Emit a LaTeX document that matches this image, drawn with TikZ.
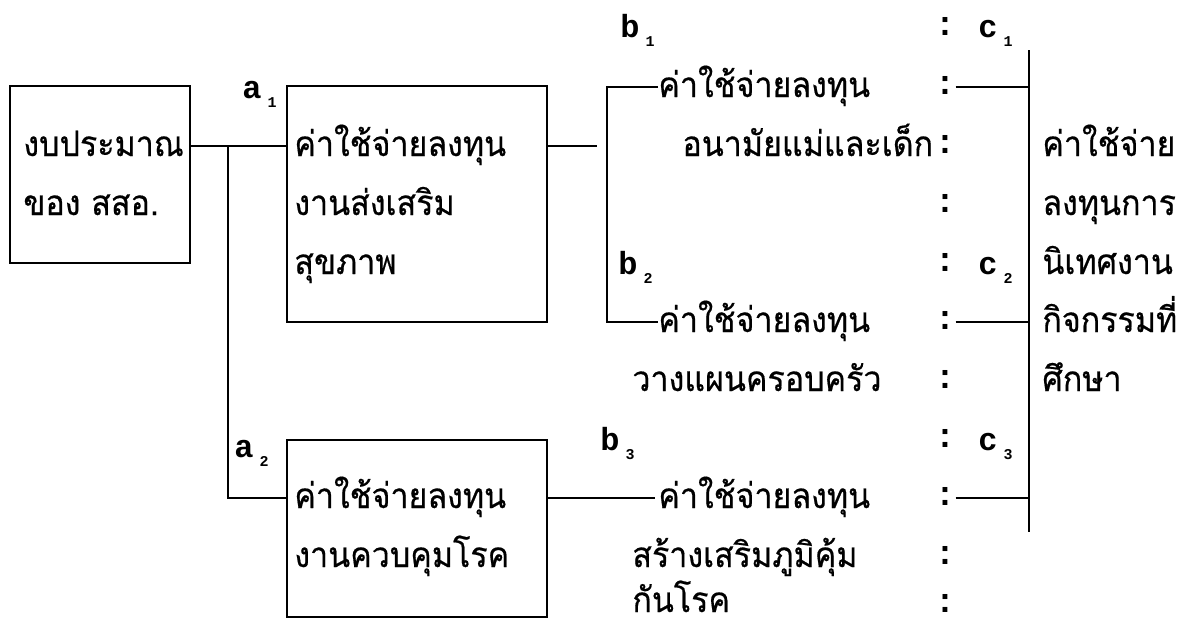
\documentclass[tikz,border=0pt]{standalone}
\usepackage{fontspec}
\newfontfamily\thaifont[Script=Thai,FakeStretch=0.92,FakeBold=0.5]{Loma}
\newfontfamily\labfont{Liberation Mono}
\newcommand{\lbl}[2]{{\labfont\bfseries\fontsize{16}{16}\selectfont #1}\hspace{3pt}\raisebox{-4.5pt}{\labfont\fontsize{7.5}{7.5}\selectfont\bfseries #2}}
\begin{document}
\begin{tikzpicture}[x=0.5pt,y=-0.5pt,
  box/.style={draw,line width=1.3pt,inner sep=0pt,outer sep=0pt,anchor=north west},
  ln/.style={line width=1.2pt},
  tx/.style={anchor=base west,inner sep=0pt,font=\thaifont\fontsize{17.5}{17.5}\selectfont},
  lab/.style={anchor=base west,inner sep=0pt},
  col/.style={anchor=base,inner sep=0pt,font=\labfont\bfseries\fontsize{17}{17}\selectfont}]
\useasboundingbox (0,0) rectangle (1181,627);
% boxes
\node[box,minimum width=90pt,minimum height=88.5pt] (box1) at (10,86) {};
\node[box,minimum width=130pt,minimum height=118pt] (box2) at (287,86) {};
\node[box,minimum width=130pt,minimum height=88.5pt] (box3) at (287,440) {};
% box texts
\node[tx] (t11) at (23,156) {งบประมาณ};
\node[tx] (t12) at (23,215) {ของ สสอ.};
\node[tx] (t21) at (294,156) {ค่าใช้จ่ายลงทุน};
\node[tx] (t22) at (294,215) {งานส่งเสริม};
\node[tx] (t23) at (294,274) {สุขภาพ};
\node[tx] (t31) at (294,508) {ค่าใช้จ่ายลงทุน};
\node[tx] (t32) at (294,567) {งานควบคุมโรค};
% labels a
\node[lab] (la1) at (242,98) {\lbl{a}{1}};
\node[lab] (la2) at (234,457) {\lbl{a}{2}};
% connectors left
\coordinate (j1) at (228,146);
\coordinate (j2) at (228,498);
\draw[ln] (box1.east |- j1) -- (box2.west |- j1);
\draw[ln] (j1) -- (j2) -- (box3.west |- j2);
\coordinate (s2) at (597,146);
\draw[ln] (box2.east |- s2) -- (s2);
% b column
\node[lab] (lb1) at (620,37) {\lbl{b}{1}};
\node[lab] (lb2) at (618,274) {\lbl{b}{2}};
\node[lab] (lb3) at (600,450) {\lbl{b}{3}};
\node[tx] (tb1) at (658,97) {ค่าใช้จ่ายลงทุน};
\node[tx] (tb12) at (682,156) {อนามัยแม่และเด็ก};
\node[tx] (tb2) at (658,332) {ค่าใช้จ่ายลงทุน};
\node[tx] (tb22) at (632,391) {วางแผนครอบครัว};
\node[tx] (tb3) at (658,508) {ค่าใช้จ่ายลงทุน};
\node[tx] (tb32) at (632,567) {สร้างเสริมภูมิคุ้ม};
\node[tx] (tb33) at (632,612) {กันโรค};
\coordinate (bt) at (607,87);
\coordinate (bb) at (607,322);
\draw[ln] (tb1.west |- bt) -- (bt) -- (bb) -- (tb2.west |- bb);
\coordinate (b3s) at (655,498);
\draw[ln] (box3.east |- b3s) -- (b3s);
% colons
\foreach \r/\n in {28/0,87/1,146/2,205/3,264/4,322/5,381/6,440/7,498/8,557/9,605/10}
  \node[col] (cl\n) at (945,\r+7) {:};
% c labels
\node[lab] (lc1) at (978,37) {\lbl{c}{1}};
\node[lab] (lc2) at (978,274) {\lbl{c}{2}};
\node[lab] (lc3) at (978,450) {\lbl{c}{3}};
% c bracket
\coordinate (ct) at (1029,50);
\coordinate (cb) at (1029,532);
\draw[ln] (ct) -- (cb);
\draw[ln] (cl1.east |- 0,87) -- (ct |- 0,87);
\draw[ln] (cl5.east |- 0,322) -- (ct |- 0,322);
\draw[ln] (cl8.east |- 0,498) -- (ct |- 0,498);
% c texts
\node[tx] (tc1) at (1042,156) {ค่าใช้จ่าย};
\node[tx] (tc2) at (1042,215) {ลงทุนการ};
\node[tx] (tc3) at (1042,274) {นิเทศงาน};
\node[tx] (tc4) at (1042,332) {กิจกรรมที่};
\node[tx] (tc5) at (1042,391) {ศึกษา};
\end{tikzpicture}
\end{document}
